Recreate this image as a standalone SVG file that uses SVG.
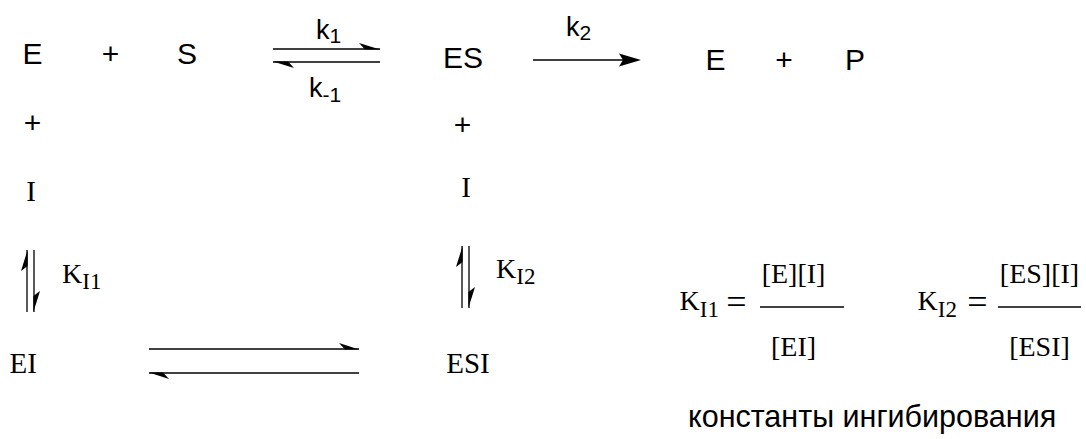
<svg xmlns="http://www.w3.org/2000/svg" width="1086" height="439" viewBox="0 0 1086 439">
<style>
.sans{font-family:"Liberation Sans",Arial,sans-serif;fill:#000}
.serif{font-family:"Liberation Serif","Times New Roman",serif;fill:#000}
.big{font-size:30px}
.k{font-size:27px}
.ks{font-size:21px}
.ser{font-size:29px}
.ser2{font-size:28px}
.sub{font-size:23px}
.eq{font-size:36px}
.ln{stroke:#000;stroke-width:1.3;fill:none}
.hd{fill:#000;stroke:none}
</style>
<rect width="1086" height="439" fill="#fff"/>
<g id="connectors">
  <line class="ln" x1="273" y1="49" x2="380" y2="49"/>
  <polygon class="hd" points="380,49.6 359,43 365,49.6"/>
  <line class="ln" x1="273" y1="62" x2="380" y2="62"/>
  <polygon class="hd" points="273,61.4 294,68 288,61.4"/>
  <line class="ln" x1="533" y1="60" x2="628" y2="60"/>
  <polygon class="hd" points="641,60 619,53.5 623,60 619,66.5"/>
  <line class="ln" x1="27" y1="250" x2="27" y2="312"/>
  <polygon class="hd" points="27.6,250 21,271 27.6,266"/>
  <line class="ln" x1="34" y1="250" x2="34" y2="312"/>
  <polygon class="hd" points="33.4,312 40,291 33.4,296"/>
  <line class="ln" x1="462" y1="246" x2="462" y2="308"/>
  <polygon class="hd" points="462.6,246 456,267 462.6,262"/>
  <line class="ln" x1="469" y1="246" x2="469" y2="308"/>
  <polygon class="hd" points="468.4,308 475,287 468.4,292"/>
  <line class="ln" x1="149" y1="349" x2="359" y2="349"/>
  <polygon class="hd" points="359,349.6 339,343 345,349.6"/>
  <line class="ln" x1="149" y1="373" x2="359" y2="373"/>
  <polygon class="hd" points="149,372.4 169,379 163,372.4"/>
  <line class="ln" x1="760" y1="307" x2="844" y2="307"/>
  <line class="ln" x1="998" y1="307" x2="1081" y2="307"/>
</g>
<g id="E"><text class="sans big" x="22.6" y="64">E</text></g>
<g id="plus1"><text class="sans big" x="110.5" y="64" text-anchor="middle">+</text></g>
<g id="S"><text class="sans big" x="187" y="64" text-anchor="middle">S</text></g>
<g id="k1"><text class="sans k" x="316" y="39">k<tspan class="ks" dy="4">1</tspan></text></g>
<g id="km1"><text class="sans k" x="309" y="97">k<tspan class="ks" dy="5">-1</tspan></text></g>
<g id="ES"><text class="sans big" x="463" y="68" text-anchor="middle">ES</text></g>
<g id="k2"><text class="sans k" x="566" y="36">k<tspan class="ks" dy="4">2</tspan></text></g>
<g id="E2"><text class="sans big" x="715.5" y="70" text-anchor="middle">E</text></g>
<g id="plus2"><text class="sans big" x="784" y="70" text-anchor="middle">+</text></g>
<g id="P"><text class="sans big" x="855" y="70" text-anchor="middle">P</text></g>
<g id="plus3"><text class="sans big" x="32.5" y="133" text-anchor="middle">+</text></g>
<g id="plus4"><text class="sans big" x="462.5" y="135" text-anchor="middle">+</text></g>
<g id="I1"><text class="serif ser" x="31" y="201" text-anchor="middle">I</text></g>
<g id="I2"><text class="serif ser" x="466" y="197" text-anchor="middle">I</text></g>
<g id="KI1"><text class="serif ser2" x="62" y="283">K<tspan class="sub" dy="6">I1</tspan></text></g>
<g id="KI2"><text class="serif ser2" x="496" y="278">K<tspan class="sub" dy="6">I2</tspan></text></g>
<g id="EI"><text class="serif ser" x="9.5" y="373">EI</text></g>
<g id="ESI"><text class="serif ser" x="468" y="373" text-anchor="middle">ESI</text></g>
<g id="formula1">
  <text class="serif ser2" x="679.5" y="310">K<tspan class="sub" dy="7">I1</tspan></text>
  <text class="serif eq" x="736.5" y="314" text-anchor="middle">=</text>
  <text class="serif ser2" x="793.5" y="283" text-anchor="middle">[E][I]</text>
  <text class="serif ser2" x="793.5" y="356" text-anchor="middle">[EI]</text>
</g>
<g id="formula2">
  <text class="serif ser2" x="917.5" y="310">K<tspan class="sub" dy="7">I2</tspan></text>
  <text class="serif eq" x="977.5" y="314" text-anchor="middle">=</text>
  <text class="serif ser2" x="1039.5" y="283" text-anchor="middle">[ES][I]</text>
  <text class="serif ser2" x="1039.5" y="356" text-anchor="middle">[ESI]</text>
</g>
<g id="caption"><text class="sans" font-size="30.5" x="688" y="427">константы ингибирования</text></g>
</svg>
